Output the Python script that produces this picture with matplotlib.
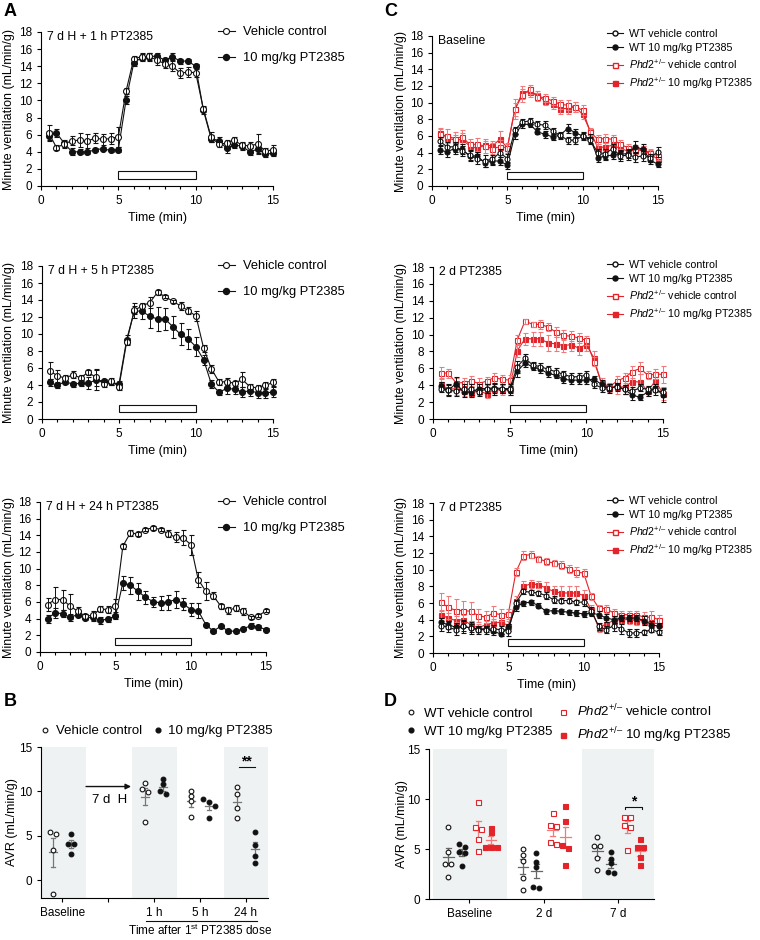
import numpy as np
import matplotlib
matplotlib.use('Agg')
import matplotlib.pyplot as plt
from matplotlib.lines import Line2D
from matplotlib.patches import Rectangle

# ---------------- data ----------------
TIME = [0.5, 1, 1.5, 2, 2.5, 3, 3.5, 4, 4.5, 5, 5.5, 6, 6.5, 7, 7.5, 8, 8.5, 9, 9.5, 10,
        10.5, 11, 11.5, 12, 12.5, 13, 13.5, 14, 14.5, 15]

# Panel A (vehicle control / 10 mg/kg PT2385)
A1_VEH = [6.2, 4.5, 4.9, 5.3, 5.35, 5.25, 5.6, 5.45, 5.55, 5.75, 11.1, 14.9, 15.1, 15.15, 14.7, 14.3, 14.0, 13.2, 13.3, 13.25,
          9.0, 5.7, 4.9, 5.0, 5.35, 4.75, 4.7, 4.9, 4.1, 4.2]
A1_VEH_E = [0.9, 0.3, 0.4, 0.5, 0.8, 0.8, 0.6, 0.6, 0.6, 1.2, 0.3, 0.3, 0.4, 0.4, 0.5, 0.5, 0.6, 0.6, 0.6, 0.5,
            0.4, 0.6, 0.3, 0.4, 0.4, 0.4, 0.5, 1.2, 0.4, 0.6]
A1_PT = [5.9, 6.2, 5.0, 4.0, 4.0, 3.95, 4.25, 4.35, 4.15, 4.25, 10.05, 14.4, 15.0, 15.1, 15.2, 14.7, 15.1, 14.6, 14.6, 14.0,
         8.85, 5.55, 5.3, 4.4, 4.8, 4.65, 4.0, 4.3, 3.75, 3.8]
A1_PT_E = [0.5, 0.5, 0.4, 0.4, 0.3, 0.2, 0.2, 0.2, 0.2, 0.3, 0.5, 0.4, 0.4, 0.5, 0.3, 0.3, 0.4, 0.3, 0.2, 0.3,
           0.4, 0.4, 0.4, 0.5, 0.4, 0.4, 0.4, 0.4, 0.4, 0.3]

A2_VEH = [5.65, 5.1, 4.8, 5.2, 4.85, 5.5, 4.9, 4.1, 4.45, 3.8, 9.1, 12.8, 13.3, 13.7, 14.9, 14.4, 13.85, 13.3, 12.75, 12.1,
          8.3, 5.9, 4.35, 4.4, 4.2, 4.65, 3.8, 3.65, 3.95, 4.3]
A2_VEH_E = [1.0, 0.7, 0.4, 0.4, 0.3, 0.3, 1.0, 0.3, 0.4, 0.4, 0.4, 0.5, 0.4, 0.6, 0.3, 0.2, 0.2, 0.5, 0.4, 0.6,
            0.4, 0.5, 0.3, 0.4, 0.3, 0.9, 0.3, 0.3, 0.4, 0.4]
A2_PT = [4.3, 3.95, 4.4, 4.1, 4.2, 4.2, 4.6, 4.45, 4.3, 4.1, 9.35, 12.75, 12.65, 12.1, 11.75, 11.75, 10.85, 9.95, 9.4, 8.5,
         6.95, 4.1, 3.15, 3.6, 3.5, 3.2, 3.3, 3.1, 3.1, 3.15]
A2_PT_E = [0.4, 0.3, 0.3, 0.3, 0.3, 0.7, 1.2, 0.3, 0.3, 0.4, 0.5, 0.9, 0.9, 1.4, 1.4, 1.3, 1.3, 1.3, 1.2, 1.1,
           0.6, 0.5, 0.3, 0.6, 0.6, 0.6, 0.6, 0.6, 0.6, 0.6]

A3_VEH = [5.7, 6.3, 6.3, 5.5, 4.9, 4.3, 4.4, 5.15, 5.1, 5.55, 12.7, 14.3, 14.15, 14.7, 14.9, 14.7, 14.2, 13.75, 13.7, 12.9,
          8.7, 7.3, 6.75, 5.5, 5.0, 5.3, 4.9, 4.15, 4.35, 4.95]
A3_VEH_E = [0.8, 1.5, 1.2, 1.5, 0.5, 0.3, 0.5, 0.4, 0.4, 0.8, 0.3, 0.4, 0.2, 0.2, 0.2, 0.2, 0.4, 0.6, 0.9, 1.2,
            0.9, 1.1, 0.4, 0.3, 0.4, 0.4, 0.4, 0.2, 0.2, 0.2]
A3_PT = [4.0, 4.7, 4.6, 4.15, 4.5, 4.1, 4.15, 3.8, 3.95, 4.3, 8.3, 8.0, 7.3, 6.55, 6.05, 5.9, 6.0, 6.3, 5.8, 5.1,
         4.95, 3.3, 2.5, 3.1, 2.5, 2.5, 2.8, 3.15, 3.0, 2.7]
A3_PT_E = [0.5, 0.6, 0.4, 0.4, 0.3, 0.3, 0.4, 0.4, 0.3, 0.3, 0.8, 1.0, 1.0, 0.8, 0.6, 0.8, 0.9, 1.0, 0.7, 0.8,
           0.9, 0.2, 0.2, 0.2, 0.2, 0.2, 0.2, 0.3, 0.3, 0.2]

# Panel C (WT / Phd2+/- ; vehicle / PT2385)
C1_WT_VEH = [5.4, 4.7, 4.7, 4.25, 3.7, 3.2, 3.0, 3.2, 4.0, 3.3, 6.7, 7.7, 7.8, 7.4, 7.3, 6.6, 6.1, 5.5, 5.5, 6.0,
             5.5, 4.0, 3.9, 4.5, 3.6, 3.7, 3.5, 3.6, 3.4, 4.1]
C1_WT_VEH_E = [0.5, 0.6, 0.6, 0.6, 0.6, 0.6, 0.7, 0.5, 0.5, 0.5, 0.4, 0.3, 0.4, 0.4, 0.5, 0.4, 0.3, 0.4, 0.4, 0.4,
               0.4, 0.5, 0.6, 0.5, 0.6, 0.6, 0.6, 0.6, 0.5, 0.6]
C1_WT_PT = [4.3, 4.1, 4.5, 4.4, 3.6, 3.6, 2.8, 3.0, 3.0, 2.5, 6.2, 7.4, 7.4, 6.5, 6.2, 5.9, 6.1, 6.9, 6.4, 6.0,
            5.7, 3.4, 3.6, 3.7, 3.8, 3.9, 4.7, 4.4, 3.1, 2.6]
C1_WT_PT_E = [0.5, 0.6, 0.6, 0.6, 0.6, 0.5, 0.5, 0.5, 0.5, 0.4, 0.5, 0.4, 0.3, 0.3, 0.4, 0.4, 0.4, 0.5, 0.5, 0.5,
              0.5, 0.5, 0.5, 0.4, 0.5, 0.5, 0.7, 0.6, 0.5, 0.3]
C1_PH_VEH = [6.2, 6.0, 5.7, 5.9, 5.0, 5.0, 4.8, 4.5, 4.7, 4.6, 9.2, 10.9, 11.6, 10.7, 10.6, 10.2, 9.8, 9.7, 9.5, 9.1,
             6.5, 5.6, 5.7, 5.6, 5.0, 4.6, 4.4, 4.3, 4.0, 3.6]
C1_PH_VEH_E = [0.7, 0.8, 0.8, 0.8, 0.7, 0.8, 0.8, 0.7, 0.8, 0.6, 0.8, 0.8, 0.5, 0.5, 0.5, 0.5, 0.5, 0.6, 0.6, 0.6,
               0.4, 0.5, 0.5, 0.5, 0.5, 0.5, 0.5, 0.5, 0.5, 0.5]
C1_PH_PT = [6.4, 5.8, 5.5, 5.6, 4.8, 4.5, 4.9, 4.8, 5.6, 4.6, 9.2, 11.2, 11.3, 10.9, 10.2, 9.8, 9.3, 9.3, 9.5, 8.6,
            6.6, 4.6, 4.7, 4.9, 4.5, 4.2, 4.3, 4.3, 3.8, 3.2]
C1_PH_PT_E = [0.6, 0.5, 0.6, 0.8, 0.5, 0.6, 0.5, 0.6, 1.0, 0.4, 1.2, 0.8, 0.6, 0.5, 0.5, 0.5, 0.6, 0.6, 0.6, 0.6,
              0.4, 0.5, 0.5, 0.5, 0.5, 0.5, 0.5, 0.5, 0.5, 0.5]

C2_WT_VEH = [3.6, 3.4, 3.3, 3.6, 3.5, 3.2, 3.6, 3.5, 3.6, 3.6, 6.2, 7.2, 6.4, 6.2, 5.9, 5.6, 5.3, 5.0, 5.0, 5.2,
             4.1, 3.7, 3.7, 3.8, 3.5, 3.3, 3.7, 3.5, 3.4, 3.2]
C2_WT_VEH_E = [0.4, 0.7, 0.6, 0.5, 0.6, 0.5, 0.5, 0.6, 0.5, 0.5, 0.7, 0.5, 0.4, 0.4, 0.4, 0.4, 0.4, 0.4, 0.4, 0.5,
               0.4, 0.5, 0.4, 0.5, 0.5, 0.5, 0.4, 0.4, 0.5, 0.5]
C2_WT_PT = [3.9, 3.4, 4.2, 3.2, 3.2, 3.6, 3.6, 3.7, 3.6, 3.4, 5.7, 6.6, 6.2, 5.9, 5.4, 5.2, 4.7, 4.6, 4.6, 4.6,
            4.7, 4.1, 3.6, 3.9, 3.5, 2.8, 2.6, 3.2, 3.7, 2.8]
C2_WT_PT_E = [0.5, 0.6, 0.8, 0.6, 0.6, 0.6, 0.5, 0.6, 0.5, 0.5, 0.7, 0.5, 0.4, 0.4, 0.4, 0.4, 0.4, 0.4, 0.4, 0.4,
              0.4, 0.5, 0.5, 0.4, 0.5, 0.5, 0.4, 0.5, 0.5, 0.8]
C2_PH_VEH = [5.5, 5.4, 4.3, 4.3, 4.5, 4.2, 4.5, 4.9, 4.7, 4.6, 9.4, 11.6, 11.2, 11.2, 10.9, 10.3, 9.9, 9.8, 9.6, 9.3,
             6.8, 4.3, 3.8, 4.5, 4.9, 5.6, 6.0, 5.2, 5.3, 5.3]
C2_PH_VEH_E = [0.6, 0.5, 0.6, 0.5, 0.6, 0.6, 0.5, 0.6, 0.5, 0.6, 0.6, 0.3, 0.3, 0.5, 0.5, 0.6, 0.6, 0.6, 0.6, 0.5,
               0.5, 0.5, 0.5, 0.6, 0.6, 0.7, 0.7, 0.5, 0.6, 1.0]
C2_PH_PT = [4.2, 3.5, 3.6, 3.3, 3.1, 3.3, 3.0, 3.5, 3.4, 3.5, 8.1, 9.5, 9.5, 9.5, 9.0, 8.9, 8.7, 8.8, 8.4, 8.8,
            7.2, 4.0, 3.7, 3.8, 3.8, 4.4, 4.4, 3.3, 4.5, 3.0]
C2_PH_PT_E = [0.5, 0.6, 0.7, 0.6, 0.5, 0.5, 0.5, 0.6, 0.6, 0.6, 0.8, 0.7, 0.8, 0.8, 0.9, 0.8, 0.8, 0.8, 0.8, 0.8,
              0.8, 0.5, 0.5, 0.8, 0.8, 0.9, 0.9, 0.6, 0.8, 0.8]

C3_WT_VEH = [3.3, 3.1, 2.8, 3.2, 3.0, 2.8, 2.8, 2.9, 2.8, 2.7, 6.0, 7.4, 7.3, 7.2, 6.9, 6.4, 6.3, 6.3, 6.1, 6.1,
             5.1, 3.2, 2.8, 3.3, 2.9, 2.4, 2.4, 2.5, 2.8, 2.5]
C3_WT_VEH_E = [0.6, 0.6, 0.6, 0.8, 0.7, 0.5, 0.5, 0.5, 0.5, 0.6, 0.4, 0.3, 0.3, 0.3, 0.4, 0.4, 0.3, 0.3, 0.3, 0.4,
               0.4, 0.4, 0.4, 0.7, 0.6, 0.5, 0.5, 0.3, 0.3, 0.3]
C3_WT_PT = [3.7, 3.4, 3.1, 3.2, 3.0, 2.9, 2.9, 2.6, 2.3, 3.1, 5.5, 6.0, 6.1, 5.7, 5.0, 5.1, 5.0, 4.9, 4.8, 4.7,
            4.8, 4.6, 4.2, 4.0, 4.2, 4.2, 4.2, 3.9, 3.4, 3.2]
C3_WT_PT_E = [0.5, 0.5, 0.5, 0.6, 0.5, 0.4, 0.4, 0.4, 0.3, 0.4, 0.4, 0.3, 0.3, 0.3, 0.3, 0.3, 0.3, 0.3, 0.4, 0.4,
              0.4, 0.4, 0.5, 0.4, 0.4, 0.4, 0.4, 0.5, 0.4, 0.4]
C3_PH_VEH = [6.1, 5.5, 5.1, 5.1, 5.0, 4.5, 4.3, 4.8, 4.6, 4.7, 9.7, 11.7, 11.8, 11.3, 11.0, 10.8, 10.6, 10.1, 9.7, 9.6,
             6.8, 5.4, 5.3, 4.8, 4.6, 4.6, 4.6, 4.3, 4.3, 4.0]
C3_PH_VEH_E = [1.1, 1.4, 1.4, 1.1, 1.1, 0.8, 0.7, 0.9, 0.7, 0.6, 0.5, 0.5, 0.4, 0.4, 0.4, 0.4, 0.5, 0.5, 0.6, 0.5,
               0.4, 0.4, 0.5, 0.5, 0.5, 0.5, 0.5, 0.6, 0.8, 0.6]
C3_PH_PT = [4.6, 4.2, 3.9, 4.0, 3.4, 3.0, 3.4, 3.6, 3.7, 3.3, 6.3, 8.0, 8.3, 8.2, 7.8, 7.4, 7.2, 7.2, 7.2, 6.9,
            5.2, 3.0, 3.5, 3.9, 4.0, 4.0, 3.9, 3.9, 3.6, 3.5]
C3_PH_PT_E = [0.6, 0.6, 0.6, 0.6, 0.5, 0.5, 0.5, 0.5, 0.5, 0.5, 0.6, 0.6, 0.5, 0.4, 0.7, 0.7, 0.8, 0.8, 0.8, 0.7,
              0.6, 0.5, 0.5, 0.5, 0.5, 0.5, 0.5, 0.5, 0.5, 0.5]

# Panel B (AVR, individual animals)
B_GROUPS = ['Baseline', '1 h', '5 h', '24 h']
B_VEH = [[5.2, 5.4, 3.4, -1.5], [10.9, 10.3, 9.9, 6.6], [10.0, 9.5, 8.9, 7.1], [10.45, 9.7, 8.1, 7.0]]
B_PT = [[5.2, 4.1, 4.1, 2.9], [11.4, 10.8, 10.0, 9.7], [9.1, 8.8, 8.4, 7.0], [5.4, 4.0, 2.7, 1.95]]

# Panel D
D_GROUPS = ['Baseline', '2 d', '7 d']
D_WT_VEH = [[7.2, 4.7, 3.5, 3.5, 2.2], [5.0, 4.4, 3.8, 2.1, 0.9], [6.2, 5.3, 5.3, 4.1, 2.9]]
D_WT_PT = [[5.5, 5.2, 4.7, 4.6, 3.3], [4.6, 3.7, 3.2, 1.1, 1.2], [4.7, 4.0, 3.6, 2.7, 2.6]]
D_PH_VEH = [[9.7, 7.2, 7.0, 6.0, 4.8], [8.6, 7.4, 7.3, 5.7, 5.5], [8.2, 8.2, 7.4, 7.2, 4.9]]
D_PH_PT = [[7.1, 6.7, 5.2, 5.2, 5.2], [9.3, 7.8, 5.4, 5.1, 3.4], [6.0, 5.2, 5.2, 4.2, 3.4]]

# ---------------- style ----------------
plt.rcParams.update({
    'font.family': ['Liberation Sans', 'DejaVu Sans'],
    'font.size': 8.5,
    'mathtext.fontset': 'custom',
    'mathtext.rm': 'Liberation Sans',
    'mathtext.it': 'Liberation Sans:italic',
    'axes.linewidth': 0.8,
    'xtick.major.width': 0.8, 'ytick.major.width': 0.8,
    'xtick.major.size': 3, 'ytick.major.size': 3,
    'xtick.minor.size': 2, 'xtick.minor.width': 0.8,
    'xtick.labelsize': 8.5, 'ytick.labelsize': 8.5,
})

W, H = 760, 940
fig = plt.figure(figsize=(W / 100, H / 100), dpi=100)


def rect(l, t, r, b):
    return [l / W, 1 - b / H, (r - l) / W, (b - t) / H]


BLACK = '#111111'
RED = '#e3242b'
RED_E = '#f07a7a'
PHD_VEH = '$\\mathit{Phd2}^{+/\u2013}$ vehicle control'
PHD_PT = '$\\mathit{Phd2}^{+/\u2013}$ 10 mg/kg PT2385'


def noclip(cont):
    for ch in cont.get_children():
        ch.set_clip_on(False)


def series(ax, vals, errs, marker, filled, color, ecolor, ms, z):
    c = ax.errorbar(TIME, vals, yerr=errs, color=color, ecolor=ecolor, marker=marker, ms=ms,
                    mfc=(color if filled else 'white'), mec=color, mew=0.8, lw=0.8,
                    elinewidth=0.7, capsize=1.8, capthick=0.7, zorder=z)
    noclip(c)
    for ch in c.get_children():
        ch.set_zorder(z)


def ts_axes(l, t, r, b, title, label_x_px, xlab_gap):
    ax = fig.add_axes(rect(l, t, r, b))
    ax.set_xlim(0, 15)
    ax.set_ylim(0, 18)
    ax.set_xticks([0, 5, 10, 15])
    ax.set_xticks(range(16), minor=True)
    ax.set_yticks(range(0, 19, 2))
    for s in ('top', 'right'):
        ax.spines[s].set_visible(False)
    ax.add_patch(Rectangle((5, 0.8), 5, 0.9, fc='white', ec=BLACK, lw=0.8, zorder=1))
    ax.text(0.4, 17.4, title, fontsize=8.8, va='center', ha='left')
    ax.set_ylabel('Minute ventilation (mL/min/g)', fontsize=9)
    ax.yaxis.set_label_coords((label_x_px - l) / (r - l), 0.5)
    ax.set_xlabel('Time (min)', fontsize=9)
    ax.xaxis.set_label_coords(0.5, -xlab_gap / (b - t))
    return ax


# ---------- Panel A ----------
A_sets = [((41, 32, 273, 186), '7 d H + 1 h PT2385', A1_VEH, A1_VEH_E, A1_PT, A1_PT_E),
          ((42, 266, 273, 419), '7 d H + 5 h PT2385', A2_VEH, A2_VEH_E, A2_PT, A2_PT_E),
          ((40, 502, 266, 652), '7 d H + 24 h PT2385', A3_VEH, A3_VEH_E, A3_PT, A3_PT_E)]
for (l, t, r, b), title, veh, vehe, pt, pte in A_sets:
    ax = ts_axes(l, t, r, b, title, 15, 26)
    series(ax, pt, pte, 'o', True, BLACK, BLACK, 4.3, 3)
    series(ax, veh, vehe, 'o', False, BLACK, BLACK, 4.3, 4)
    hs = [Line2D([], [], color=BLACK, lw=0.8, marker='o', ms=4.3, mfc='white', mec=BLACK, mew=0.8),
          Line2D([], [], color=BLACK, lw=0.8, marker='o', ms=4.3, mfc=BLACK, mec=BLACK)]
    ax.legend(hs, ['Vehicle control', '10 mg/kg PT2385'], loc='upper left',
              bbox_to_anchor=(218 / W, 1 - (t - 6) / H), bbox_transform=fig.transFigure,
              frameon=False, fontsize=9.3, handlelength=1.3, handletextpad=0.6,
              labelspacing=1.1, borderpad=0, borderaxespad=0)

# ---------- Panel C ----------
C_sets = [((432, 36, 658, 186), 'Baseline', C1_WT_VEH, C1_WT_VEH_E, C1_WT_PT, C1_WT_PT_E,
           C1_PH_VEH, C1_PH_VEH_E, C1_PH_PT, C1_PH_PT_E),
          ((433, 267, 663, 419), '2 d PT2385', C2_WT_VEH, C2_WT_VEH_E, C2_WT_PT, C2_WT_PT_E,
           C2_PH_VEH, C2_PH_VEH_E, C2_PH_PT, C2_PH_PT_E),
          ((433, 503, 659, 653), '7 d PT2385', C3_WT_VEH, C3_WT_VEH_E, C3_WT_PT, C3_WT_PT_E,
           C3_PH_VEH, C3_PH_VEH_E, C3_PH_PT, C3_PH_PT_E)]
for (l, t, r, b), title, wv, wve, wp, wpe, pv, pve, pp, ppe in C_sets:
    ax = ts_axes(l, t, r, b, title, 407, 26)
    series(ax, pp, ppe, 's', True, RED, RED_E, 3.6, 3)
    series(ax, pv, pve, 's', False, RED, RED_E, 3.6, 4)
    series(ax, wp, wpe, 'o', True, BLACK, BLACK, 3.6, 5)
    series(ax, wv, wve, 'o', False, BLACK, BLACK, 3.6, 6)
    hs = [Line2D([], [], color=BLACK, lw=0.8, marker='o', ms=3.6, mfc='white', mec=BLACK),
          Line2D([], [], color=BLACK, lw=0.8, marker='o', ms=3.6, mfc=BLACK, mec=BLACK),
          Line2D([], [], color=RED, lw=0.8, marker='s', ms=3.6, mfc='white', mec=RED),
          Line2D([], [], color=RED, lw=0.8, marker='s', ms=3.6, mfc=RED, mec=RED)]
    ax.legend(hs, ['WT vehicle control', 'WT 10 mg/kg PT2385', PHD_VEH, PHD_PT], loc='upper left',
              bbox_to_anchor=(607 / W, 1 - (t - 7) / H), bbox_transform=fig.transFigure,
              frameon=False, fontsize=7.7, handlelength=1.5, handletextpad=0.6,
              labelspacing=0.38, borderpad=0, borderaxespad=0)


# ---------- helpers for dot plots ----------
def swarm(ax, xc, vals, d_px, thr_px):
    tr = ax.transData
    order = np.argsort(vals)[::-1]
    ys = [tr.transform((xc, vals[i]))[1] for i in order]
    groups, cur = [], [order[0]]
    for k in range(1, len(order)):
        if abs(ys[k] - ys[k - 1]) < thr_px:
            cur.append(order[k])
        else:
            groups.append(cur)
            cur = [order[k]]
    groups.append(cur)
    xcpx = tr.transform((xc, 0))[0]
    out = np.zeros(len(vals))
    for g in groups:
        n = len(g)
        for j, i in enumerate(g):
            px = xcpx + (j - (n - 1) / 2) * d_px
            out[i] = tr.inverted().transform((px, 0))[0]
    return out


def dots(ax, xc, vals, marker, filled, color, ecol, ms, hw_mean, hw_cap, d_px=6, thr=4):
    xs = swarm(ax, xc, vals, d_px, thr)
    ax.plot(xs, vals, ls='', marker=marker, ms=ms, mfc=(color if filled else 'white'),
            mec=color, mew=0.8, zorder=4, clip_on=False)
    m = np.mean(vals)
    se = np.std(vals, ddof=1) / np.sqrt(len(vals))
    ax.plot([xc - hw_mean, xc + hw_mean], [m, m], color=ecol, lw=0.9, zorder=3)
    ax.plot([xc, xc], [m - se, m + se], color=ecol, lw=0.9, zorder=3)
    for yy in (m - se, m + se):
        ax.plot([xc - hw_cap, xc + hw_cap], [yy, yy], color=ecol, lw=0.9, zorder=3)


SHADE = '#eef2f2'

# ---------- Panel B ----------
B_POS = [0, 2, 3, 4]
axB = fig.add_axes(rect(41, 747, 268, 898))
axB.set_xlim(-0.46, 4.48)
axB.set_ylim(-2, 15)
for s in ('top', 'right'):
    axB.spines[s].set_visible(False)
axB.set_yticks([0, 5, 10, 15])
axB.set_xticks([0, 1, 2, 3, 4])
axB.set_xticklabels(['Baseline', '', B_GROUPS[1], B_GROUPS[2], B_GROUPS[3]])
for a, bnd in ((-0.46, 0.52), (1.52, 2.5), (3.52, 4.48)):
    axB.axvspan(a, bnd, color=SHADE, lw=0, zorder=0)
for p, v1, v2 in zip(B_POS, B_VEH, B_PT):
    dots(axB, p - 0.2, v1, 'o', False, BLACK, '#777777', 3.4, 0.09, 0.045)
    dots(axB, p + 0.2, v2, 'o', True, BLACK, '#777777', 3.4, 0.09, 0.045)
axB.set_ylabel('AVR (mL/min/g)', fontsize=9)
axB.yaxis.set_label_coords((18 - 41) / 227, 0.5)
axB.annotate('', xy=(1.5, 10.55), xytext=(0.52, 10.55),
             arrowprops=dict(arrowstyle='-|>', lw=1.0, color=BLACK, mutation_scale=8, shrinkA=0, shrinkB=0))
axB.text(1.04, 9.05, '7 d  H', fontsize=9.5, ha='center', va='center')
axB.plot([3.85, 4.2], [12.8, 12.8], color=BLACK, lw=0.8)
axB.text(4.02, 12.95, '**', fontsize=10, ha='center', va='baseline', fontweight='bold')
hb = [Line2D([], [], ls='', marker='o', ms=3.4, mfc='white', mec=BLACK, mew=0.8),
      Line2D([], [], ls='', marker='o', ms=3.4, mfc=BLACK, mec=BLACK)]
axB.legend(hb, ['Vehicle control', '10 mg/kg PT2385'], ncol=2, loc='center left',
           bbox_to_anchor=(40 / W, 1 - 731 / H), bbox_transform=fig.transFigure,
           frameon=False, fontsize=9.5, handlelength=0.8, handletextpad=0.4,
           columnspacing=0.8, borderpad=0, borderaxespad=0)
fig.add_artist(Line2D([146 / W, 257 / W], [1 - 921 / H, 1 - 921 / H], color=BLACK, lw=0.8))
fig.text(200 / W, 1 - 930 / H, r'Time after 1$^{\rm st}$ PT2385 dose', fontsize=8.5,
         ha='center', va='center')

# ---------- Panel D ----------
D_OFF = [-0.28, -0.1, 0.12, 0.29]
axD = fig.add_axes(rect(429, 749, 654, 899))
axD.set_xlim(-0.54, 2.48)
axD.set_ylim(0, 15)
for s in ('top', 'right'):
    axD.spines[s].set_visible(False)
axD.set_yticks([0, 5, 10, 15])
axD.set_xticks([0, 1, 2])
axD.set_xticklabels(D_GROUPS)
for a, bnd in ((-0.48, 0.51), (1.52, 2.48)):
    axD.axvspan(a, bnd, color=SHADE, lw=0, zorder=0)
for g in range(3):
    dots(axD, g + D_OFF[0], D_WT_VEH[g], 'o', False, BLACK, '#666666', 3.4, 0.07, 0.035)
    dots(axD, g + D_OFF[1], D_WT_PT[g], 'o', True, BLACK, '#666666', 3.4, 0.07, 0.035)
    dots(axD, g + D_OFF[2], D_PH_VEH[g], 's', False, RED, RED_E, 3.6, 0.07, 0.035)
    dots(axD, g + D_OFF[3], D_PH_PT[g], 's', True, RED, RED_E, 3.6, 0.07, 0.035)
axD.set_ylabel('AVR (mL/min/g)', fontsize=9)
axD.yaxis.set_label_coords((408 - 429) / 225, 0.5)
axD.plot([2.09, 2.09, 2.32, 2.32], [9.0, 9.23, 9.23, 9.0], color=BLACK, lw=0.8)
axD.text(2.205, 9.35, '*', fontsize=10, ha='center', va='baseline', fontweight='bold')
hd = [Line2D([], [], ls='', marker='o', ms=3.4, mfc='white', mec=BLACK, mew=0.8),
      Line2D([], [], ls='', marker='o', ms=3.4, mfc=BLACK, mec=BLACK),
      Line2D([], [], ls='', marker='s', ms=3.6, mfc='white', mec=RED, mew=0.8),
      Line2D([], [], ls='', marker='s', ms=3.6, mfc=RED, mec=RED)]
axD.legend(hd, ['WT vehicle control', 'WT 10 mg/kg PT2385', PHD_VEH, PHD_PT], ncol=2,
           loc='upper left', bbox_to_anchor=(406 / W, 1 - 703 / H), bbox_transform=fig.transFigure,
           frameon=False, fontsize=9.5, handlelength=0.8, handletextpad=0.6,
           columnspacing=0.4, labelspacing=0.45, borderpad=0, borderaxespad=0)

# ---------- panel letters ----------
for txt, x, y in (('A', 4, 12), ('C', 384, 12), ('B', 4, 702), ('D', 384, 702)):
    fig.text(x / W, 1 - y / H, txt, fontsize=13, fontweight='bold', ha='left', va='center')

fig.savefig('out.png', dpi=100)
